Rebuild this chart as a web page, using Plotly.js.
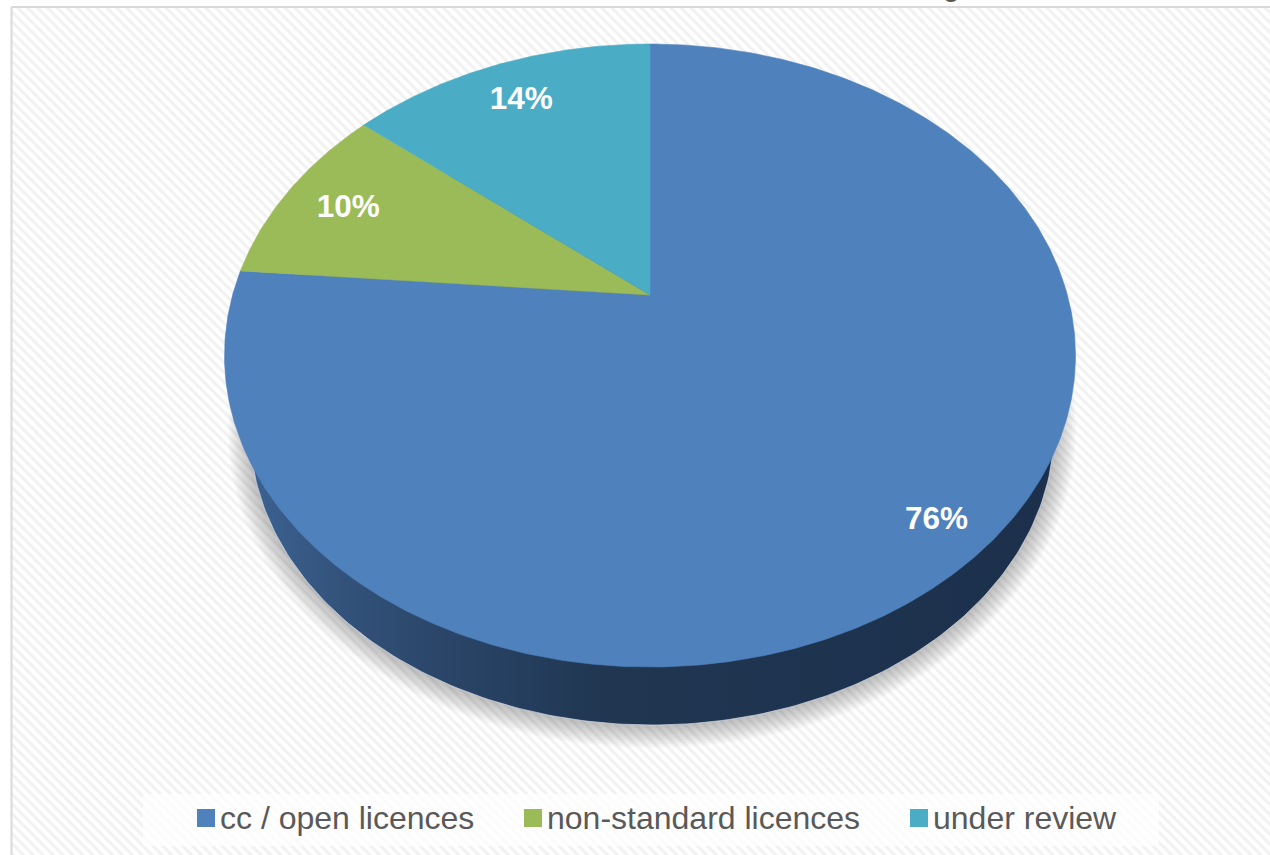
<!DOCTYPE html>
<html>
<head>
<meta charset="utf-8">
<script src="https://cdn.plot.ly/plotly-3.0.1.min.js"></script>
<style>html,body{margin:0;padding:0;background:#fff}#chart{width:1270px;height:855px}</style>
</head>
<body>
<div id="chart"></div>
<script>
// Data (labels show the rounded share)
const categories = ['cc / open licences', 'non-standard licences', 'under review'];
const shares = [76.3, 9.7, 14];
const colors = ['#4f81bd', '#9bbb59', '#4bacc6'];
const labelRadii = [0.885, 0.828, 0.83];

// Perspective geometry of the tilted disc (axes run in pixel units)
const face = {cx: 650, cy: 355.5, a: 425.5, b: 311.5, apexY: 295};
const foot = {cx: 652, cy: 430, a: 402, b: 295};
const d = (face.cy - face.apexY) / face.b;
const total = shares.reduce((s, v) => s + v, 0);

function project(theta, r) {
  const X = r * Math.sin(theta), Y = r * Math.cos(theta);
  const den = 1 + d * Y;
  return [face.cx + face.a * X * Math.sqrt(1 - d * d) / den,
          face.cy - face.b * (Y + d) / den];
}
function ellipse(e, grow, dy) {
  const xs = [], ys = [];
  for (let i = 0; i <= 360; i++) {
    const t = i * Math.PI / 180;
    xs.push(e.cx + (e.a + grow) * Math.cos(t));
    ys.push(e.cy + dy + (e.b + grow) * Math.sin(t));
  }
  return [xs, ys];
}

const traces = [];
// hatched chart area with its border
traces.push({
  x: [11.5, 1275, 1275, 11.5, 11.5], y: [7, 7, 860, 860, 7],
  mode: 'lines', fill: 'toself', hoverinfo: 'skip', showlegend: false,
  line: {color: '#d9d9d9', width: 2},
  fillcolor: '#ffffff',
  fillpattern: {shape: '\\', size: 7, solidity: 0.42, fgcolor: '#f1f1f1', bgcolor: '#ffffff'}
});
// soft shadow under the pie
for (let k = 22; k >= 2; k -= 2) {
  const [xs, ys] = ellipse(foot, k, 1);
  traces.push({x: xs, y: ys, mode: 'lines', fill: 'toself', hoverinfo: 'skip', showlegend: false,
    line: {width: 0}, fillcolor: 'rgba(60,60,60,0.032)'});
}
// side wall
{
  const [xs, ys] = ellipse(foot, 0, 0);
  traces.push({x: xs, y: ys, mode: 'lines', fill: 'toself', hoverinfo: 'skip', showlegend: false,
    line: {color: 'rgba(205,215,230,0.7)', width: 1},
    fillgradient: {type: 'horizontal', colorscale: [
      [0, '#3c6291'], [0.11, '#33537c'], [0.23, '#2b4669'], [0.34, '#253e5e'], [0.44, '#203651'], [1, '#1c304c']
    ]}});
}
// face slices
let acc = 0;
const labelX = [], labelY = [], labelText = [];
shares.forEach((v, i) => {
  const start = acc / total * 2 * Math.PI;
  acc += v;
  const end = acc / total * 2 * Math.PI;
  const xs = [face.cx], ys = [face.apexY];
  const n = Math.ceil(v * 6);
  for (let j = 0; j <= n; j++) {
    const p = project(start + (end - start) * j / n, 1);
    xs.push(p[0]); ys.push(p[1]);
  }
  xs.push(face.cx); ys.push(face.apexY);
  traces.push({x: xs, y: ys, mode: 'lines', fill: 'toself', name: categories[i], hoverinfo: 'name',
    showlegend: false, line: {width: 0.6, color: colors[i]}, fillcolor: colors[i]});
  const m = project((start + end) / 2, labelRadii[i]);
  labelX.push(m[0]); labelY.push(m[1] + 2.5); labelText.push(Math.round(v) + '%');
});
traces.push({x: labelX, y: labelY, text: labelText, mode: 'text', hoverinfo: 'skip', showlegend: false,
  textposition: 'middle center',
  textfont: {family: 'Liberation Sans, Arial, sans-serif', size: 31.5, color: '#ffffff', weight: 700}});

// legend panel and entries
traces.push({x: [143, 1159, 1159, 143, 143], y: [794, 794, 846, 846, 794], mode: 'lines', fill: 'toself',
  hoverinfo: 'skip', showlegend: false, line: {width: 0}, fillcolor: 'rgba(255,255,255,0.72)'});
const legendX = [206, 533, 919];
categories.forEach((c, i) => {
  traces.push({x: [legendX[i]], y: [818], mode: 'markers', hoverinfo: 'skip', showlegend: false,
    marker: {symbol: 'square', size: 18, color: colors[i], line: {width: 0}}});
  traces.push({x: [legendX[i] + 14], y: [820.5], text: [c], mode: 'text', hoverinfo: 'skip', showlegend: false,
    textposition: 'middle right',
    textfont: {family: 'Liberation Sans, Arial, sans-serif', size: 32, color: '#595959'}});
});

const layout = {
  width: 1270, height: 855, autosize: false,
  margin: {l: 0, r: 0, t: 0, b: 0, pad: 0},
  paper_bgcolor: '#ffffff', plot_bgcolor: 'rgba(0,0,0,0)',
  showlegend: false,
  xaxis: {range: [0, 1270], visible: false, fixedrange: true},
  yaxis: {range: [855, 0], visible: false, fixedrange: true},
  annotations: [{text: 'g', xref: 'x', yref: 'y', x: 951, y: 4, yanchor: 'bottom', xanchor: 'center', showarrow: false,
    font: {family: 'Liberation Sans, Arial, sans-serif', size: 30, color: '#595959'}}]
};
Plotly.newPlot('chart', traces, layout, {displayModeBar: false});
</script>
</body>
</html>
